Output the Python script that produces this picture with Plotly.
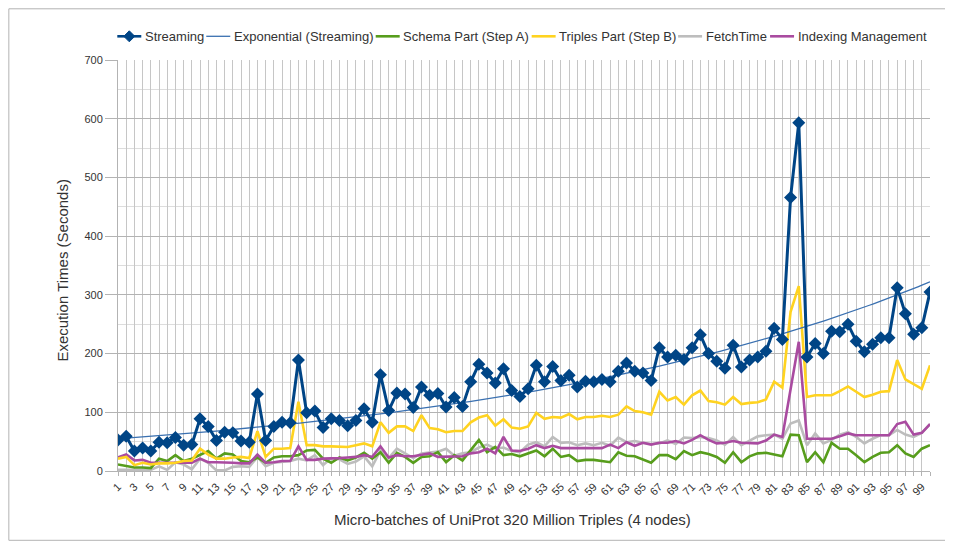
import numpy as np
import plotly.graph_objects as go

batches = list(range(1, 101))

streaming = [53, 59, 34, 39, 34, 49, 48, 57, 44, 45,
             89, 76, 52, 66, 65, 51, 49, 131, 52, 76,
             83, 82, 189, 99, 102, 74, 89, 86, 77, 86,
             106, 83, 164, 103, 133, 131, 108, 143, 129, 132,
             109, 125, 110, 152, 182, 167, 150, 174, 137, 127,
             140, 180, 152, 178, 154, 163, 143, 153, 152, 156,
             152, 170, 184, 170, 167, 154, 210, 194, 197, 190,
             210, 232, 200, 187, 175, 214, 177, 189, 194, 204,
             243, 224, 466, 593, 194, 217, 200, 238, 237, 250,
             221, 203, 216, 227, 227, 312, 268, 233, 244, 305]

schema = [11, 8, 6, 6, 5, 21, 17, 27, 17, 21,
          27, 34, 21, 30, 28, 17, 15, 23, 14, 23,
          25, 25, 27, 35, 36, 21, 14, 23, 18, 23,
          31, 21, 32, 14, 31, 24, 14, 24, 25, 32,
          15, 27, 18, 35, 53, 32, 41, 27, 29, 25,
          30, 35, 25, 38, 24, 27, 17, 19, 19, 17,
          15, 32, 26, 25, 19, 14, 27, 27, 20, 34,
          27, 32, 29, 24, 14, 32, 15, 25, 30, 31,
          28, 25, 62, 61, 15, 32, 15, 48, 38, 38,
          27, 15, 24, 31, 32, 44, 30, 24, 38, 44]

triples = [21, 24, 10, 14, 11, 13, 13, 14, 17, 18,
           38, 28, 21, 21, 23, 24, 22, 68, 24, 38,
           38, 39, 118, 44, 44, 42, 42, 42, 41, 44,
           47, 42, 83, 65, 76, 76, 68, 95, 73, 71,
           66, 68, 68, 83, 91, 95, 77, 88, 74, 72,
           76, 99, 89, 92, 91, 97, 88, 92, 92, 94,
           92, 96, 110, 102, 100, 96, 135, 120, 126, 113,
           129, 137, 119, 117, 113, 126, 114, 116, 117, 122,
           152, 142, 271, 315, 126, 129, 129, 129, 136, 144,
           135, 126, 130, 135, 136, 189, 156, 148, 140, 180]

fetch = [2, 2, 2, 2, 2, 8, 2, 15, 11, 3,
         21, 14, 1, 1, 7, 8, 7, 24, 8, 14,
         15, 17, 21, 18, 27, 10, 22, 20, 12, 16,
         25, 8, 35, 22, 38, 30, 22, 30, 32, 33,
         38, 26, 30, 32, 40, 45, 38, 40, 34, 32,
         45, 49, 42, 58, 48, 49, 44, 47, 44, 48,
         43, 57, 49, 51, 48, 46, 47, 52, 46, 57,
         56, 58, 56, 52, 45, 58, 44, 52, 59, 61,
         62, 55, 81, 86, 44, 64, 47, 53, 62, 66,
         58, 47, 55, 61, 61, 70, 62, 58, 65, 80]

indexing = [23, 28, 18, 19, 14, 14, 15, 15, 14, 14,
            21, 15, 15, 15, 14, 13, 13, 28, 14, 15,
            17, 17, 42, 19, 19, 21, 21, 22, 23, 24,
            27, 24, 42, 23, 27, 25, 25, 27, 30, 24,
            24, 24, 25, 30, 32, 38, 30, 58, 35, 34,
            38, 44, 39, 43, 39, 39, 39, 39, 39, 39,
            45, 39, 49, 43, 48, 45, 48, 48, 51, 47,
            53, 61, 53, 47, 48, 51, 48, 48, 47, 52,
            62, 58, 137, 220, 55, 55, 55, 55, 59, 64,
            61, 61, 61, 61, 61, 80, 84, 62, 65, 80]

tick_labels = [str(i) if i % 2 == 1 else "" for i in batches]

series_names = ["Streaming", "Exponential (Streaming)", "Schema Part (Step A)",
                "Triples Part (Step B)", "FetchTime", "Indexing Management"]
series_colors = ["#004586", "#3a70b0", "#579d1c", "#ffd320", "#bdbdbd", "#a94ba0"]

# Exponential trendline (least squares fit on log values, as the spreadsheet does)
xb = np.array(batches, dtype=float)
b, ln_a = np.polyfit(xb, np.log(np.array(streaming, dtype=float)), 1)
xt = np.linspace(2, 100, 200)
yt = np.exp(ln_a + b * xt)

FONT = "Liberation Sans, Arial, sans-serif"
TXT = "#333333"

# The page body has an 8px margin: figure origin sits at window (8, 8)
OFF = 8
W, H = 953 - OFF, 543 - OFF
x0p, x1p = 117.7, 930.0        # plot area, window pixels
ytop, ybot = 59.7, 470.7
def px_x(p):
    return (p - x0p) / (x1p - x0p)
def px_y(p):
    return (ybot - p) / (ybot - ytop)

fig = go.Figure()
fig.add_trace(go.Scatter(x=batches, y=fetch, name=series_names[4], mode="lines",
                         line=dict(color=series_colors[4], width=2.6)))
fig.add_trace(go.Scatter(x=batches, y=schema, name=series_names[2], mode="lines",
                         line=dict(color=series_colors[2], width=2.6)))
fig.add_trace(go.Scatter(x=batches, y=indexing, name=series_names[5], mode="lines",
                         line=dict(color=series_colors[5], width=2.6)))
fig.add_trace(go.Scatter(x=batches, y=triples, name=series_names[3], mode="lines",
                         line=dict(color=series_colors[3], width=2.6)))
fig.add_trace(go.Scatter(x=xt, y=yt, name=series_names[1], mode="lines",
                         line=dict(color=series_colors[1], width=1.3)))
fig.add_trace(go.Scatter(x=batches, y=streaming, name=series_names[0], mode="lines+markers",
                         line=dict(color=series_colors[0], width=3),
                         marker=dict(symbol="diamond", size=10, color=series_colors[0])))

# Legend row drawn as shapes + text (short key lines like the reference)
key_start = [117, 206, 375.5, 531.5, 678, 770]   # window px of key line start
key_len = 24
leg_y = 36
shapes = []
annotations = []
ly = px_y(leg_y)
for i, name in enumerate(series_names):
    xs = key_start[i]
    shapes.append(dict(type="line", xref="paper", yref="paper",
                       x0=px_x(xs), x1=px_x(xs + key_len), y0=ly, y1=ly,
                       line=dict(color=series_colors[i], width=1.3 if i == 1 else 2.6)))
    annotations.append(dict(text=name, xref="paper", yref="paper",
                            x=px_x(xs + key_len + 1.5), y=ly, xanchor="left", yanchor="middle",
                            showarrow=False, font=dict(size=13, color=TXT, family=FONT)))
# diamond marker for the Streaming key
cx, cy, r = key_start[0] + key_len / 2, leg_y, 5.5
path = "M {} {} L {} {} L {} {} L {} {} Z".format(
    px_x(cx), px_y(cy - r), px_x(cx + r), px_y(cy),
    px_x(cx), px_y(cy + r), px_x(cx - r), px_y(cy))
shapes.append(dict(type="path", xref="paper", yref="paper", path=path,
                   fillcolor=series_colors[0], line=dict(color=series_colors[0], width=1)))

# outer frame of the chart
shapes.append(dict(type="rect", xref="paper", yref="paper",
                   x0=px_x(OFF + 0.5), x1=px_x(948), y0=px_y(540), y1=px_y(OFF + 0.5),
                   line=dict(color="#b3b3b3", width=1), layer="below"))

annotations += [
    dict(text="Micro-batches of UniProt 320 Million Triples (4 nodes)",
         xref="paper", yref="paper", x=px_x(512), y=px_y(519),
         showarrow=False, font=dict(size=15, color=TXT),
         xanchor="center", yanchor="middle"),
    dict(text="Execution Times (Seconds)", textangle=-90,
         xref="paper", yref="paper", x=px_x(62), y=px_y(270),
         showarrow=False, font=dict(size=15, color=TXT),
         xanchor="center", yanchor="middle"),
]

fig.update_layout(
    width=W, height=H,
    margin=dict(l=x0p - OFF, r=W - (x1p - OFF), t=ytop - OFF, b=H - (ybot - OFF)),
    paper_bgcolor="white", plot_bgcolor="white",
    font=dict(family=FONT, size=12, color=TXT),
    showlegend=False,
    xaxis=dict(range=[1, 100], tickmode="array", tickvals=batches, ticktext=tick_labels,
               tickangle=-45, tickfont=dict(size=11, color=TXT),
               showgrid=True, gridcolor="#c6c6c6", gridwidth=1,
               ticks="outside", ticklen=4, tickcolor="#b3b3b3",
               showline=True, linecolor="#b3b3b3", zeroline=False),
    yaxis=dict(range=[0, 700], tickmode="linear", tick0=0, dtick=100,
               tickfont=dict(size=11, color=TXT),
               showgrid=True, gridcolor="#b3b3b3", gridwidth=1,
               ticks="outside", ticklen=12, tickcolor="#b3b3b3",
               showline=True, linecolor="#b3b3b3", zeroline=False,
               minor=dict(dtick=50, showgrid=True, gridcolor="#dddddd", gridwidth=1)),
    annotations=annotations,
    shapes=shapes,
)

fig.write_html("out.html")
